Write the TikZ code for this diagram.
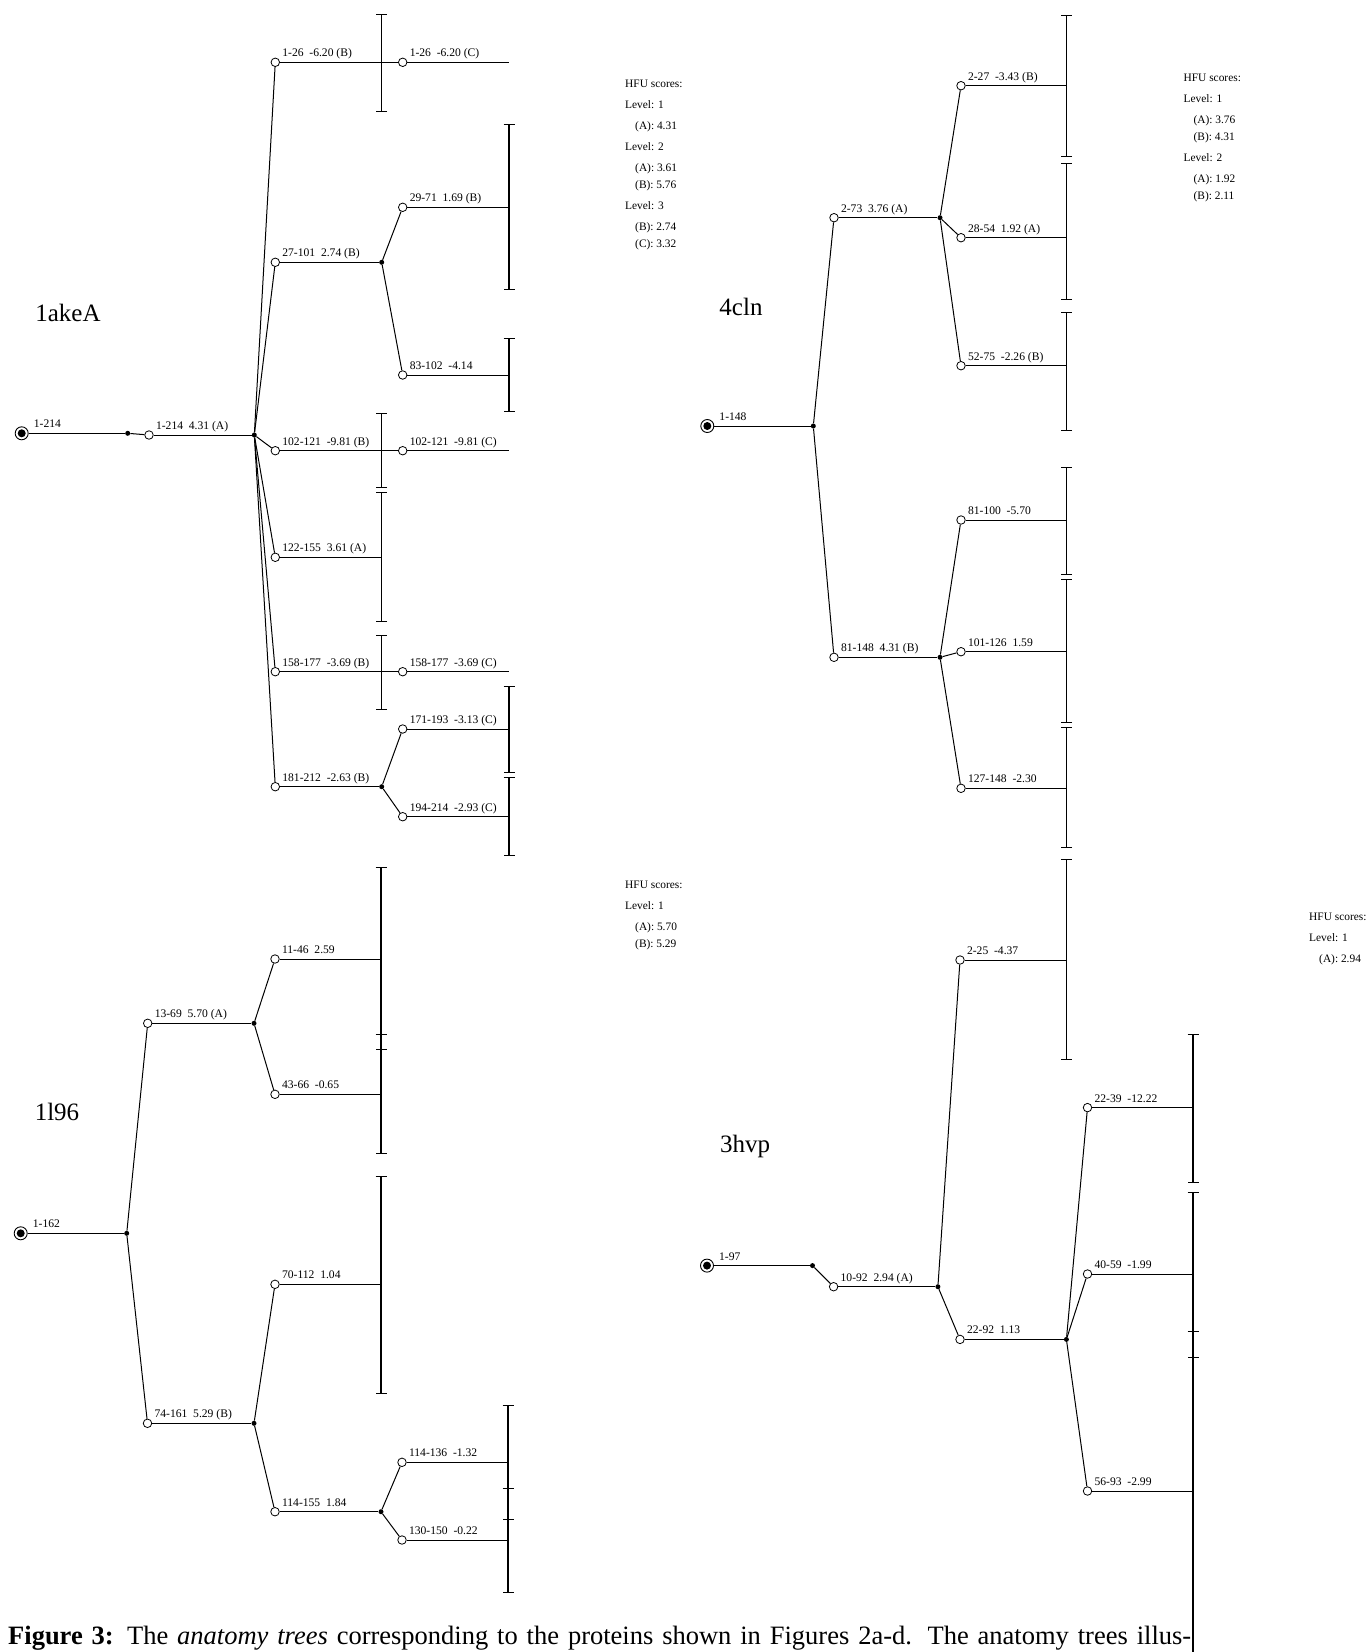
\documentclass[tikz,border=0pt]{standalone}
\usepackage{fontspec}
\setmainfont{Liberation Serif}
\usepackage{tikz}
\usetikzlibrary{arrows.meta}
\newcommand{\lblfont}{\fontsize{11.6}{13}\selectfont}
\newcommand{\hfufont}{\fontsize{11.4}{17}\selectfont}
\newcommand{\protfont}{\fontsize{25}{29}\selectfont}
\newcommand{\capfont}{\fontsize{26.5}{30}\selectfont}
\newcommand{\hfuin}{\hspace*{10pt}}

\begin{document}
\begin{tikzpicture}[
  x=1pt, y=-1pt,
  lbl/.style={anchor=base west, inner sep=0, xshift=2.2pt, yshift=5.5pt, font=\lblfont},
  seg/.style={circle, draw, fill=white, line width=0.8pt, minimum size=8.5pt, inner sep=0},
  junc/.style={circle, fill, minimum size=5pt, inner sep=0},
  rootnode/.style={circle, draw, line width=0.9pt, minimum size=13pt, inner sep=0,
    path picture={\fill (path picture bounding box.center) circle (4pt);}},
  link/.style={line width=1pt},
  bar/.style={line width=1.1pt, arrows={Bar[width=11pt]-Bar[width=11pt]}},
  hfu/.style={anchor=north west, inner sep=0, align=left, font=\hfufont},
  prot/.style={font=\protfont}
]
\useasboundingbox (0,0) rectangle (1370,1652);

% 1akeA
\node[prot] (akename) at (68,313) {1akeA};
\node[rootnode, label={[lbl,xshift=2.8pt]right:1-214}] (ake) at (21.7,433.3) {};
\node[junc] (akej0) at (127.7,433.3) {};
\node[seg, label={[lbl]right:1-214~~4.31 (A)}] (akeA) at (149,435) {};
\node[junc] (akej1) at (254.3,435) {};
\node[seg, label={[lbl]right:1-26~~-6.20 (B)}] (akeB1) at (275.3,62.3) {};
\node[seg, label={[lbl]right:27-101~~2.74 (B)}] (akeB2) at (275.3,262.3) {};
\node[seg, label={[lbl]right:102-121~~-9.81 (B)}] (akeB3) at (275.3,450.7) {};
\node[seg, label={[lbl]right:122-155~~3.61 (A)}] (akeB4) at (275.3,557.3) {};
\node[seg, label={[lbl]right:158-177~~-3.69 (B)}] (akeB5) at (275.3,671.7) {};
\node[seg, label={[lbl]right:181-212~~-2.63 (B)}] (akeB6) at (275.3,786.7) {};
\node[junc] (akej2) at (381.7,262.3) {};
\node[junc] (akej3) at (381.7,786.7) {};
\node[seg, label={[lbl]right:1-26~~-6.20 (C)}] (akeC1) at (402.7,62.3) {};
\node[seg, label={[lbl]right:29-71~~1.69 (B)}] (akeC2) at (402.7,207.3) {};
\node[seg, label={[lbl]right:83-102~~-4.14}] (akeC3) at (402.7,375) {};
\node[seg, label={[lbl]right:102-121~~-9.81 (C)}] (akeC4) at (402.7,450.7) {};
\node[seg, label={[lbl]right:158-177~~-3.69 (C)}] (akeC5) at (402.7,671.7) {};
\node[seg, label={[lbl]right:171-193~~-3.13 (C)}] (akeC6) at (402.7,729) {};
\node[seg, label={[lbl]right:194-214~~-2.93 (C)}] (akeC7) at (402.7,816.7) {};
\coordinate (akebar1) at (381.7,0);
\coordinate (akebar2) at (509,0);

\draw[link] (ake) -- (akej0);
\draw[link] (akej0) -- (akeA);
\draw[link] (akeA) -- (akej1);
\draw[link] (akej1) -- (akeB1);
\draw[link] (akej1) -- (akeB2);
\draw[link] (akej1) -- (akeB3);
\draw[link] (akej1) -- (akeB4);
\draw[link] (akej1) -- (akeB5);
\draw[link] (akej1) -- (akeB6);
\draw[link] (akeB1) -- (akeC1);
\draw[link] (akeB2) -- (akej2);
\draw[link] (akeB3) -- (akeC4);
\draw[link] (akeB4) -- (akeB4 -| akebar1);
\draw[link] (akeB5) -- (akeC5);
\draw[link] (akeB6) -- (akej3);
\draw[link] (akej2) -- (akeC2);
\draw[link] (akej2) -- (akeC3);
\draw[link] (akej3) -- (akeC6);
\draw[link] (akej3) -- (akeC7);
\draw[link] (akeC1) -- (akeC1 -| akebar2);
\draw[link] (akeC2) -- (akeC2 -| akebar2);
\draw[link] (akeC3) -- (akeC3 -| akebar2);
\draw[link] (akeC4) -- (akeC4 -| akebar2);
\draw[link] (akeC5) -- (akeC5 -| akebar2);
\draw[link] (akeC6) -- (akeC6 -| akebar2);
\draw[link] (akeC7) -- (akeC7 -| akebar2);
\draw[bar] (381.7,14) -- (381.7,112.3);
\draw[bar] (381.7,412.7) -- (381.7,488.3);
\draw[bar] (381.7,492.3) -- (381.7,621.7);
\draw[bar] (381.7,635) -- (381.7,710);
\draw[bar] (509,124) -- (509,290);
\draw[bar] (509,337.7) -- (509,412.3);
\draw[bar] (509,685.7) -- (509,773.3);
\draw[bar] (509,776.7) -- (509,856);

\node[hfu] (akehfu) at (625,80.2) {HFU scores:\\[4pt] Level: 1\\[4pt] \hfuin(A): 4.31\\[4pt]
  Level: 2\\[4pt] \hfuin(A): 3.61\\ \hfuin(B): 5.76\\[4pt] Level: 3\\[4pt] \hfuin(B): 2.74\\ \hfuin(C): 3.32};

% 4cln
\node[prot] (clnname) at (741,306.7) {4cln};
\node[rootnode, label={[lbl,xshift=2.8pt]right:1-148}] (cln) at (707.3,426) {};
\node[junc] (clnj0) at (813.3,426) {};
\node[seg, label={[lbl]right:2-73~~3.76 (A)}] (clnA) at (834,217.7) {};
\node[seg, label={[lbl]right:81-148~~4.31 (B)}] (clnB) at (834,657.3) {};
\node[junc] (clnj1) at (940,217.7) {};
\node[junc] (clnj2) at (940,657.3) {};
\node[seg, label={[lbl]right:2-27~~-3.43 (B)}] (clnA1) at (961,85.7) {};
\node[seg, label={[lbl]right:28-54~~1.92 (A)}] (clnA2) at (961,237.7) {};
\node[seg, label={[lbl]right:52-75~~-2.26 (B)}] (clnA3) at (961,365.7) {};
\node[seg, label={[lbl]right:81-100~~-5.70}] (clnB1) at (961,520) {};
\node[seg, label={[lbl]right:101-126~~1.59}] (clnB2) at (961,651.7) {};
\node[seg, label={[lbl]right:127-148~~-2.30}] (clnB3) at (961,788.3) {};
\coordinate (clnbar) at (1066.7,0);

\draw[link] (cln) -- (clnj0);
\draw[link] (clnj0) -- (clnA);
\draw[link] (clnj0) -- (clnB);
\draw[link] (clnA) -- (clnj1);
\draw[link] (clnB) -- (clnj2);
\draw[link] (clnj1) -- (clnA1);
\draw[link] (clnj1) -- (clnA2);
\draw[link] (clnj1) -- (clnA3);
\draw[link] (clnj2) -- (clnB1);
\draw[link] (clnj2) -- (clnB2);
\draw[link] (clnj2) -- (clnB3);
\draw[link] (clnA1) -- (clnA1 -| clnbar);
\draw[link] (clnA2) -- (clnA2 -| clnbar);
\draw[link] (clnA3) -- (clnA3 -| clnbar);
\draw[link] (clnB1) -- (clnB1 -| clnbar);
\draw[link] (clnB2) -- (clnB2 -| clnbar);
\draw[link] (clnB3) -- (clnB3 -| clnbar);
\draw[bar] (1066.7,15) -- (1066.7,157.3);
\draw[bar] (1066.7,163.3) -- (1066.7,300);
\draw[bar] (1066.7,311.7) -- (1066.7,431);
\draw[bar] (1066.7,466.7) -- (1066.7,575);
\draw[bar] (1066.7,579.3) -- (1066.7,723.3);
\draw[bar] (1066.7,727.3) -- (1066.7,848.3);

\node[hfu] (clnhfu) at (1183.4,73.8) {HFU scores:\\[4pt] Level: 1\\[4pt] \hfuin(A): 3.76\\ \hfuin(B): 4.31\\[4pt]
  Level: 2\\[4pt] \hfuin(A): 1.92\\ \hfuin(B): 2.11};

% 1l96
\node[prot] (lnsname) at (57,1112) {1l96};
\node[rootnode, label={[lbl,xshift=2.8pt]right:1-162}] (lns) at (20.7,1233.3) {};
\node[junc] (lnsj0) at (126.7,1233.3) {};
\node[seg, label={[lbl]right:13-69~~5.70 (A)}] (lnsA) at (147.7,1023.3) {};
\node[seg, label={[lbl]right:74-161~~5.29 (B)}] (lnsB) at (147.5,1423.3) {};
\node[junc] (lnsj1) at (254,1023.3) {};
\node[junc] (lnsj2) at (254,1423.3) {};
\node[seg, label={[lbl]right:11-46~~2.59}] (lnsA1) at (275,959) {};
\node[seg, label={[lbl]right:43-66~~-0.65}] (lnsA2) at (275,1094.3) {};
\node[seg, label={[lbl]right:70-112~~1.04}] (lnsB1) at (275,1284.3) {};
\node[seg, label={[lbl]right:114-155~~1.84}] (lnsB2) at (275,1511.7) {};
\node[junc] (lnsj3) at (381,1511.7) {};
\node[seg, label={[lbl]right:114-136~~-1.32}] (lnsC1) at (402,1462.3) {};
\node[seg, label={[lbl]right:130-150~~-0.22}] (lnsC2) at (402,1540) {};
\coordinate (lnsbar1) at (381,0);
\coordinate (lnsbar2) at (508,0);

\draw[link] (lns) -- (lnsj0);
\draw[link] (lnsj0) -- (lnsA);
\draw[link] (lnsj0) -- (lnsB);
\draw[link] (lnsA) -- (lnsj1);
\draw[link] (lnsB) -- (lnsj2);
\draw[link] (lnsj1) -- (lnsA1);
\draw[link] (lnsj1) -- (lnsA2);
\draw[link] (lnsj2) -- (lnsB1);
\draw[link] (lnsj2) -- (lnsB2);
\draw[link] (lnsB2) -- (lnsj3);
\draw[link] (lnsj3) -- (lnsC1);
\draw[link] (lnsj3) -- (lnsC2);
\draw[link] (lnsA1) -- (lnsA1 -| lnsbar1);
\draw[link] (lnsA2) -- (lnsA2 -| lnsbar1);
\draw[link] (lnsB1) -- (lnsB1 -| lnsbar1);
\draw[link] (lnsC1) -- (lnsC1 -| lnsbar2);
\draw[link] (lnsC2) -- (lnsC2 -| lnsbar2);
\draw[bar] (381,867.3) -- (381,1050);
\draw[bar] (381,1034.3) -- (381,1154);
\draw[bar] (381,1176) -- (381,1394.3);
\draw[bar] (508,1405) -- (508,1520);
\draw[bar] (508,1488.3) -- (508,1592.7);

\node[hfu] (lnshfu) at (625,881) {HFU scores:\\[4pt] Level: 1\\[4pt] \hfuin(A): 5.70\\ \hfuin(B): 5.29};

% 3hvp
\node[prot] (hvpname) at (745,1146.5) {3hvp};
\node[rootnode, label={[lbl,xshift=2.8pt]right:1-97}] (hvp) at (707,1265.6) {};
\node[junc] (hvpj0) at (812.5,1265.6) {};
\node[seg, label={[lbl]right:10-92~~2.94 (A)}] (hvpA) at (833.6,1286.7) {};
\node[junc] (hvpj1) at (937.9,1286.7) {};
\node[seg, label={[lbl]right:2-25~~-4.37}] (hvpA1) at (960,960) {};
\node[seg, label={[lbl]right:22-92~~1.13}] (hvpA2) at (960,1339.4) {};
\node[junc] (hvpj2) at (1066.4,1339.4) {};
\node[seg, label={[lbl]right:22-39~~-12.22}] (hvpB1) at (1087.5,1107.6) {};
\node[seg, label={[lbl]right:40-59~~-1.99}] (hvpB2) at (1087.5,1274) {};
\node[seg, label={[lbl]right:56-93~~-2.99}] (hvpB3) at (1087.5,1491) {};
\coordinate (hvpbar1) at (1066.4,0);
\coordinate (hvpbar2) at (1193,0);

\draw[link] (hvp) -- (hvpj0);
\draw[link] (hvpj0) -- (hvpA);
\draw[link] (hvpA) -- (hvpj1);
\draw[link] (hvpj1) -- (hvpA1);
\draw[link] (hvpj1) -- (hvpA2);
\draw[link] (hvpA2) -- (hvpj2);
\draw[link] (hvpj2) -- (hvpB1);
\draw[link] (hvpj2) -- (hvpB2);
\draw[link] (hvpj2) -- (hvpB3);
\draw[link] (hvpA1) -- (hvpA1 -| hvpbar1);
\draw[link] (hvpB1) -- (hvpB1 -| hvpbar2);
\draw[link] (hvpB2) -- (hvpB2 -| hvpbar2);
\draw[link] (hvpB3) -- (hvpB3 -| hvpbar2);
\draw[bar] (1066.4,859) -- (1066.4,1060);
\draw[bar] (1193,1034) -- (1193,1183.4);
\draw[line width=1.1pt, arrows={Bar[width=11pt]-}] (1193,1191.8) -- (1193,1652);
\draw[bar] (1193,1331) -- (1193,1358);

\node[hfu] (hvphfu) at (1309,912.5) {HFU scores:\\[4pt] Level: 1\\[4pt] \hfuin(A): 2.94};

\node[anchor=base west, inner sep=0, font=\capfont] (caption) at (8,1644) {\makebox[1183pt][s]{\textbf{Figure 3:} The \textit{anatomy trees} corresponding to the proteins shown in Figures 2a-d. The anatomy trees illus-}};
\end{tikzpicture}
\end{document}
